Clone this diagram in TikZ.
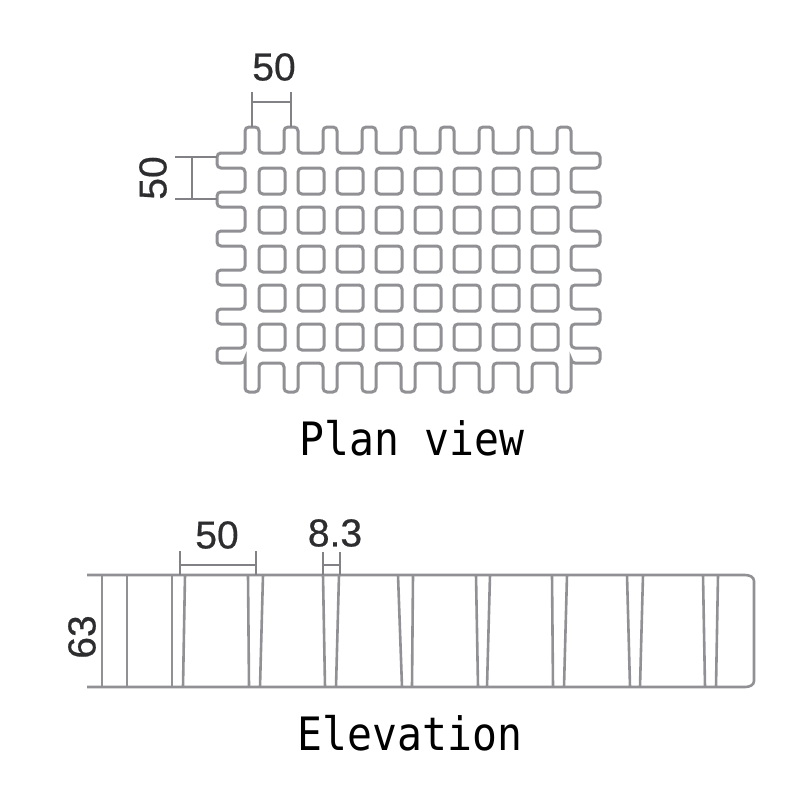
\documentclass[tikz,border=0pt]{standalone}
\usepackage{fontspec}
\newfontfamily\dimfont[FakeBold=0.5]{Liberation Sans}
\newfontfamily\captionfont[FakeStretch=0.9]{DejaVu Sans Mono}
\usepackage{xcolor}
\usepackage{tikz}

\definecolor{gridline}{RGB}{145,145,149}
\definecolor{dimline}{RGB}{130,130,134}
\definecolor{dimtext}{RGB}{45,45,48}

\begin{document}
\begin{tikzpicture}[x=1pt,y=-1pt]
	\tikzstyle{grating} = [draw=gridline, line width=3pt, rounded corners=4pt]
	\tikzstyle{bar} = [draw=gridline, line width=2.6pt]
	\tikzstyle{dim} = [draw=dimline, line width=1.8pt]
	\tikzstyle{dimlabel} = [text=dimtext, font=\dimfont\fontsize{39}{39}\selectfont, inner sep=0pt]
	\tikzstyle{title} = [text=black, font=\captionfont\fontsize{46}{46}\selectfont, inner sep=0pt]

	\useasboundingbox[fill=white] (0,0) rectangle (808,808);

	% plan view
	\draw[grating] (217,153)
		\foreach \k in {0,...,8} {-- ({245+39*\k},153) -- ({245+39*\k},127) -- ({259+39*\k},127) -- ({259+39*\k},153)}
		\foreach \j in {0,...,5} {-- (571,{153+39*\j}) -- (600,{153+39*\j}) -- (600,{168+39*\j}) -- (571,{168+39*\j})}
		\foreach \k in {8,...,0} {-- ({259+39*\k},363) -- ({259+39*\k},392) -- ({245+39*\k},392) -- ({245+39*\k},363)}
		\foreach \j in {5,...,0} {-- (245,{168+39*\j}) -- (217,{168+39*\j}) -- (217,{153+39*\j}) -- (245,{153+39*\j})}
		-- cycle;
	\foreach \k in {0,...,7}
		\foreach \j in {0,...,4}
			\draw[grating] ({259+39*\k},{168+39*\j}) rectangle ({285+39*\k},{194+39*\j});

	\coordinate (topA) at (252,92);
	\coordinate (topB) at (291,92);
	\coordinate (topC) at (252,127);
	\coordinate (topD) at (291,127);
	\draw[dim] (topA) -- (topC);
	\draw[dim] (topB) -- (topD);
	\draw[dim] (topA |- 0,102) -- (topB |- 0,102);
	\node[dimlabel](planTop) at (274,67) {50};

	\coordinate (leftA) at (175,157);
	\coordinate (leftB) at (175,199);
	\coordinate (leftC) at (217,157);
	\coordinate (leftD) at (217,199);
	\draw[dim] (leftA) -- (leftC);
	\draw[dim] (leftB) -- (leftD);
	\draw[dim] (192,157) -- (192,199);
	\node[dimlabel, rotate=90](planLeft) at (153,178) {50};

	\node[title](plan) at (412,438) {Plan view};

	% elevation
	\draw[bar] (87,575) -- (745,575) to[out=0,in=90] (754,581) -- (754,681) to[out=-90,in=0] (745,687) -- (87,687);
	\foreach \a/\b in {102/102, 127/127, 172/172, 185/183, 248/249, 263/260, 323/325, 339/336, 398/402,
		413/412, 476/478, 490/487, 552/553, 567/564, 627/630, 643/640, 703/705, 718/716}
		\draw[bar] (\a,575) -- (\b,687);

	\coordinate (midA) at (180,551);
	\coordinate (midB) at (256,551);
	\coordinate (midC) at (180,575);
	\coordinate (midD) at (256,575);
	\draw[dim] (midA) -- (midC);
	\draw[dim] (midB) -- (midD);
	\draw[dim] (180,565) -- (256,565);
	\node[dimlabel](elevMid) at (217,535) {50};

	\coordinate (ribA) at (323,552);
	\coordinate (ribB) at (340,552);
	\coordinate (ribC) at (323,575);
	\coordinate (ribD) at (340,575);
	\draw[dim] (ribA) -- (ribC);
	\draw[dim] (ribB) -- (ribD);
	\draw[dim] (323,565) -- (340,565);
	\node[dimlabel](elevRib) at (335,533) {8.3};

	\node[dimlabel, rotate=90](elevHeight) at (82,637) {63};

	\node[title](elevation) at (410,733) {Elevation};
\end{tikzpicture}
\end{document}
